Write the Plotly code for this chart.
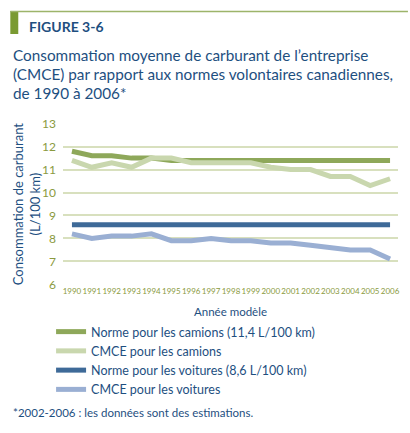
import plotly.graph_objects as go

years = list(range(1990, 2007))
norme_camions = [11.8, 11.6, 11.6, 11.5, 11.5, 11.4, 11.4, 11.4, 11.4, 11.4, 11.4, 11.4, 11.4, 11.4, 11.4, 11.4, 11.4]
cmce_camions = [11.4, 11.1, 11.3, 11.1, 11.5, 11.5, 11.3, 11.3, 11.3, 11.3, 11.1, 11.0, 11.0, 10.7, 10.7, 10.3, 10.6]
norme_voitures = [8.6] * 17
cmce_voitures = [8.2, 8.0, 8.1, 8.1, 8.2, 7.9, 7.9, 8.0, 7.9, 7.9, 7.8, 7.8, 7.7, 7.6, 7.5, 7.5, 7.1]

series_names = [
    "Norme pour les camions (11,4 L/100 km)",
    "CMCE pour les camions",
    "Norme pour les voitures (8,6 L/100 km)",
    "CMCE pour les voitures",
]
series_colors = ["#8EA85A", "#C9D7AE", "#3E6A98", "#9AAFD3"]
y_ticks = [6, 7, 8, 9, 10, 11, 12, 13]

W, H = 410, 433
L, R, T, B = 63, 10, 123, 148
pw, ph = W - L - R, H - T - B

def px(x):
    return (x - L) / pw

def py(y):
    return (H - B - y) / ph

BLUE = "#1E4F7F"
GREEN_TXT = "#8A9A3E"
FONT = "Lato"

fig = go.Figure()
for vals, name, col in zip([norme_camions, cmce_camions, norme_voitures, cmce_voitures], series_names, series_colors):
    fig.add_trace(go.Scatter(x=years, y=vals, mode="lines", name=name,
                             line=dict(color=col, width=5), hoverinfo="skip"))

fig.update_layout(
    width=W, height=H,
    margin=dict(l=L, r=R, t=T, b=B),
    paper_bgcolor="white", plot_bgcolor="white",
    font=dict(family=FONT, color=BLUE),
    showlegend=True,
    legend=dict(x=px(51), y=py(317), xanchor="left", yanchor="top",
                font=dict(size=12.5, color=BLUE, family=FONT),
                bgcolor="rgba(0,0,0,0)", tracegroupgap=0, itemwidth=30),
    xaxis=dict(range=[1989.55, 2006.4], tickmode="array", tickvals=years,
               ticktext=[str(y) for y in years], showgrid=False, zeroline=False,
               showline=False, ticks="", tickangle=0,
               tickfont=dict(size=8, color=GREEN_TXT, family=FONT)),
    yaxis=dict(range=[5.97, 13.03], tickmode="array", tickvals=y_ticks,
               showgrid=True, gridcolor="#D8E0BE", gridwidth=2, zeroline=False,
               showline=False, ticks="", ticklabelstandoff=6,
               tickfont=dict(size=12, color=GREEN_TXT, family=FONT)),
)

annotations = [
    dict(text="<b>FIGURE 3-6</b>", x=px(27), y=py(26), xanchor="left", yanchor="middle",
         font=dict(size=14, color=BLUE, family=FONT)),
    dict(text="Consommation moyenne de carburant de l\u2019entreprise", x=px(11), y=py(55),
         xanchor="left", yanchor="middle", font=dict(size=15.3, color=BLUE, family=FONT)),
    dict(text="(CMCE) par rapport aux normes volontaires canadiennes,", x=px(11), y=py(74),
         xanchor="left", yanchor="middle", font=dict(size=15.3, color=BLUE, family=FONT)),
    dict(text="de 1990 \u00e0 2006*", x=px(11), y=py(93),
         xanchor="left", yanchor="middle", font=dict(size=15.3, color=BLUE, family=FONT)),
    dict(text="Consommation de carburant<br>(L/100 km)", x=px(26), y=py(204), textangle=-90,
         xanchor="center", yanchor="middle", font=dict(size=13, color=BLUE, family=FONT)),
    dict(text="Ann\u00e9e mod\u00e8le", x=px(232), y=py(311), xanchor="center", yanchor="middle",
         font=dict(size=11.5, color=BLUE, family=FONT)),
    dict(text="*2002-2006 : les donn\u00e9es sont des estimations.", x=px(11), y=py(412),
         xanchor="left", yanchor="middle", font=dict(size=11.5, color=BLUE, family=FONT)),
]
for a in annotations:
    a.update(xref="paper", yref="paper", showarrow=False)
    fig.add_annotation(**a)

fig.add_shape(type="rect", xref="paper", yref="paper", x0=px(10), x1=px(18), y0=py(11), y1=py(34),
              fillcolor="#7A9A32", line=dict(width=0))
fig.add_shape(type="line", xref="paper", yref="paper", x0=px(10), x1=px(410), y0=py(11.5), y1=py(11.5),
              line=dict(color="#9DB46A", width=1.5))

fig.write_html("out.html")
